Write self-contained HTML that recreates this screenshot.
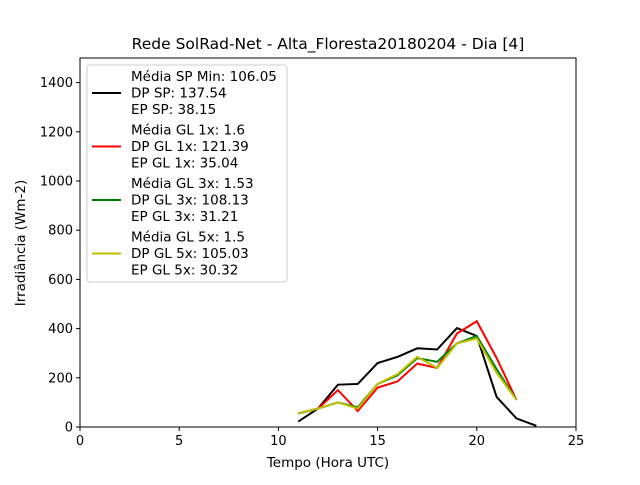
<!DOCTYPE html>
<html><head><meta charset="utf-8"><style>body{margin:0;background:#fff}svg text{font-family:"DejaVu Sans","Liberation Sans",sans-serif;fill:#000}</style></head>
<body>
<svg id="c" width="640" height="480" xmlns="http://www.w3.org/2000/svg"></svg>
<script>
const hours=[11,12,13,14,15,16,17,18,19,20,21,22,23];
const spVals=[22,75,172,175,260,285,320,315,402,370,122,35,5];
const gl1Vals=[55,75,150,65,160,185,258,240,380,430,280,110];
const gl3Vals=[55,75,100,80,175,210,280,265,340,370,235,110];
const gl5Vals=[55,75,100,75,175,215,285,240,340,360,220,110];
const xTicks=[0,5,10,15,20,25];
const yTicks=[0,200,400,600,800,1000,1200,1400];
const legendLabels=[["Média SP Min: 106.05","DP SP: 137.54","EP SP: 38.15"],["Média GL 1x: 1.6","DP GL 1x: 121.39","EP GL 1x: 35.04"],["Média GL 3x: 1.53","DP GL 3x: 108.13","EP GL 3x: 31.21"],["Média GL 5x: 1.5","DP GL 5x: 105.03","EP GL 5x: 30.32"]];
const L=80,R=576,T=58,B=427;
const X=v=>L+(v/25)*(R-L);
const Y=v=>B-(v/1500)*(B-T);
const svg=document.getElementById('c');
const NS='http://www.w3.org/2000/svg';
function mk(t,a,p){const e=document.createElementNS(NS,t);for(const k in a)e.setAttribute(k,a[k]);(p||svg).appendChild(e);return e;}
let e;
e=mk('rect',{x:L,y:T,width:R-L,height:B-T,fill:'none',stroke:'#000','stroke-width':1});


xTicks.forEach(v=>{
 e=mk('line',{x1:X(v),x2:X(v),y1:B,y2:B+4,stroke:'#000'});
 
 
 e=mk('text',{x:X(v),y:B+18,'text-anchor':'middle','font-size':13});e.textContent=v;
 
 
});
yTicks.forEach(v=>{
 e=mk('line',{x1:L-4,x2:L,y1:Y(v),y2:Y(v),stroke:'#000'});
 
 
 e=mk('text',{x:L-7,y:Y(v)+4.5,'text-anchor':'end','font-size':13});e.textContent=v;
 
 
});
const series=[[spVals,'#000','series-sp'],[gl1Vals,'#ff0000','series-gl-1x'],[gl3Vals,'#008000','series-gl-3x'],[gl5Vals,'#bfbf00','series-gl-5x']];
series.forEach(s=>{
 const pts=s[0].map((v,i)=>X(hours[i])+','+Y(v)).join(' ');
 e=mk('polyline',{points:pts,fill:'none',stroke:s[1],'stroke-width':2});
 
 
});
e=mk('text',{x:328,y:49,'text-anchor':'middle','font-size':15.5});e.textContent='Rede SolRad-Net - Alta_Floresta20180204 - Dia [4]';


e=mk('text',{x:328,y:467,'text-anchor':'middle','font-size':13.5});e.textContent='Tempo (Hora UTC)';


e=mk('text',{x:0,y:0,'text-anchor':'middle','font-size':13.5,transform:'translate(25,243) rotate(-90)'});e.textContent='Irradiância (Wm-2)';


const lg=mk('g',{});


mk('rect',{x:87,y:65,width:200,height:217,rx:3,fill:'#fff','fill-opacity':0.8,stroke:'#ccc'},lg);
legendLabels.forEach((ls,i)=>{
 const cy=93+i*53.5;
 e=mk('line',{x1:92,x2:121,y1:cy,y2:cy,stroke:series[i][1],'stroke-width':2},lg);
 
 
 ls.forEach((t,j)=>{
  e=mk('text',{x:131,y:cy-12+j*16.5,'font-size':13.5},lg);e.textContent=t;
  
  
 });
});
</script>
</body></html>
